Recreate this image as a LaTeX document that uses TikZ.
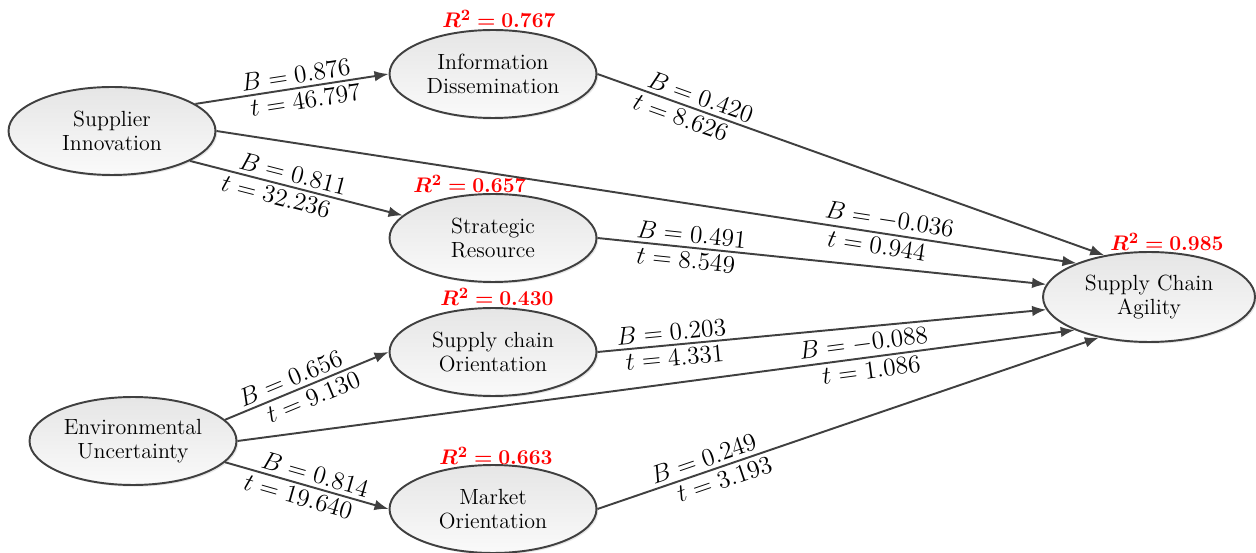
\documentclass[tikz,border=0pt]{standalone}
\usepackage{amsmath,bm}
\usetikzlibrary{arrows.meta,shapes.geometric,shadows}
\begin{document}
\begin{tikzpicture}[x=0.02cm, y=0.02cm,
    latent/.style={ellipse, draw=black!75, line width=1.1pt, top color=black!10, bottom color=black!2,
      minimum width=4.14cm, minimum height=1.76cm, inner sep=0pt, align=center,
      font=\fontsize{12.5}{13.7}\selectfont,
      drop shadow={opacity=0.2, shadow xshift=1pt, shadow yshift=-1pt}},
    effect/.style={draw=black!75, line width=1.1pt, -{Latex[length=8pt, width=6pt]}},
    coef/.style={sloped, inner sep=2.2pt, font=\fontsize{13.5}{15}\selectfont},
    rsq/.style={text=red, inner sep=0pt, font=\fontsize{12.8}{14}\selectfont}]
    \useasboundingbox (0,0) rectangle (1256,-553);
    % constructs
    \node[latent] (si) at (112,-131) {Supplier\\Innovation};
    \node[latent] (id) at (493,-74) {Information\\Dissemination};
    \node[latent] (sr) at (493,-238) {Strategic\\Resource};
    \node[latent] (sco) at (493,-352) {Supply chain\\Orientation};
    \node[latent] (eu) at (133,-441) {Environmental\\Uncertainty};
    \node[latent] (mo) at (493,-509) {Market\\Orientation};
    \node[latent, minimum width=4.24cm, minimum height=1.8cm] (sca) at (1149,-297) {Supply Chain\\Agility};
    % explained variance
    \node[rsq] (r-id) at (499,-19) {$\bm{R^2 = 0.767}$};
    \node[rsq] (r-sr) at (470,-184) {$\bm{R^2 = 0.657}$};
    \node[rsq] (r-sco) at (497,-297) {$\bm{R^2 = 0.430}$};
    \node[rsq] (r-mo) at (496,-456) {$\bm{R^2 = 0.663}$};
    \node[rsq] (r-sca) at (1167,-242) {$\bm{R^2 = 0.985}$};
    % paths
    \draw[effect] (si.18) -- node[coef, pos=0.53, above] {$B = 0.876$} node[coef, pos=0.56, below] {$t = 46.797$} (id.west);
    \draw[effect] (si.-21) -- node[coef, pos=0.47, above] {$B = 0.811$} node[coef, pos=0.42, below] {$t = 32.236$} (sr.166);
    \draw[effect] (si.east) -- node[coef, pos=0.78, above] {$B = -0.036$} node[coef, pos=0.77, below] {$t = 0.944$} (sca.155);
    \draw[effect] (id.east) -- node[coef, pos=0.195, above] {$B = 0.420$} node[coef, pos=0.173, below] {$t = 8.626$} (sca.137);
    \draw[effect] (sr.east) -- node[coef, pos=0.207, above] {$B = 0.491$} node[coef, pos=0.2, below] {$t = 8.549$} (sca.173);
    \draw[effect] (sco.east) -- node[coef, pos=0.167, above] {$B = 0.203$} node[coef, pos=0.17, below] {$t = 4.331$} (sca.187);
    \draw[effect] (eu.east) -- node[coef, pos=0.75, above] {$B = -0.088$} node[coef, pos=0.755, below] {$t = 1.086$} (sca.204);
    \draw[effect] (mo.east) -- node[coef, pos=0.22, above] {$B = 0.249$} node[coef, pos=0.245, below] {$t = 3.193$} (sca.219);
    \draw[effect] (eu.13) -- node[coef, pos=0.43, above] {$B = 0.656$} node[coef, pos=0.51, below] {$t = 9.130$} (sco.west);
    \draw[effect] (eu.-13) -- node[coef, pos=0.53, above] {$B = 0.814$} node[coef, pos=0.47, below] {$t = 19.640$} (mo.west);
\end{tikzpicture}
\end{document}
